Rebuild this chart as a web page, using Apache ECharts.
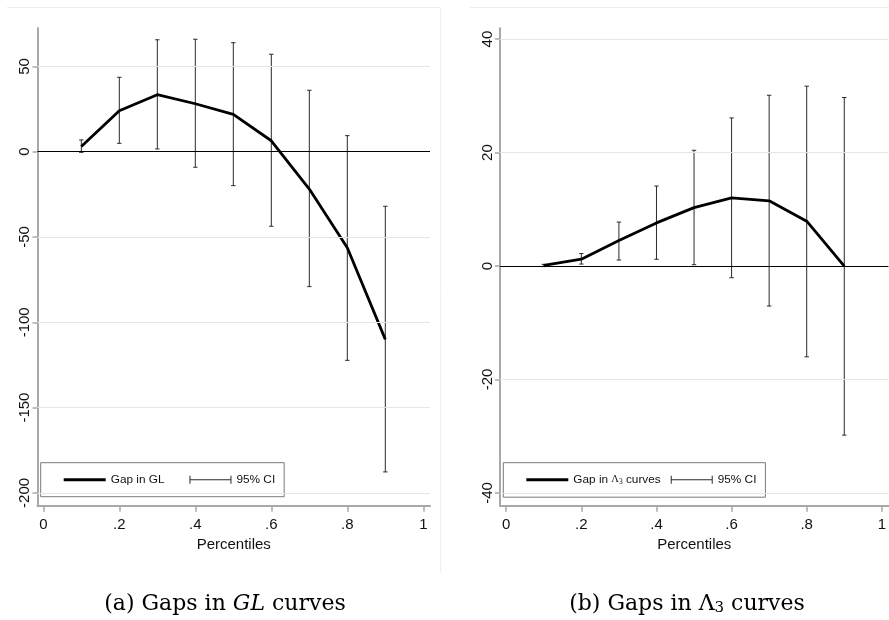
<!DOCTYPE html>
<html>
<head>
<meta charset="utf-8">
<script src="https://cdn.jsdelivr.net/npm/echarts@6/dist/echarts.min.js"></script>
<style>html,body{margin:0;padding:0;background:#fff}#c{width:889px;height:620px}</style>
</head>
<body>
<div id="c"></div>
<script>
// ---- data ----
const percentiles = [0.1, 0.2, 0.3, 0.4, 0.5, 0.6, 0.7, 0.8, 0.9];
const gapGL      = [3, 24, 33.4, 28.1, 21.9, 6.4, -21.9, -56.3, -110];
const gapGLlow   = [-0.4, 4.9, 1.6, -9.1, -19.9, -43.7, -79.1, -122.3, -187.7];
const gapGLhigh  = [6.9, 43.6, 65.6, 65.9, 63.9, 57.1, 36.0, 9.4, -32.0];
const gapL3      = [0.1, 1.2, 4.5, 7.6, 10.3, 12.0, 11.5, 7.9, 0];
const gapL3low   = [-0.1, 0.35, 1.06, 1.2, 0.24, -2.06, -7.05, -16.0, -29.8];
const gapL3high  = [0.3, 2.2, 7.75, 14.1, 20.4, 26.1, 30.1, 31.7, 29.7];
const xTicks  = [0, 0.2, 0.4, 0.6, 0.8, 1];
const yTicksA = [-200, -150, -100, -50, 0, 50];
const yTicksB = [-40, -20, 0, 20, 40];
const nameGL = 'Gap in GL';
const nameL3 = 'Gap in Λ3 curves';
const nameCIa = '95% CI (a)';
const nameCIb = '95% CI (b)';

// ---- chart ----
const FONT = 'Liberation Sans, Arial, sans-serif';
const SERIF = 'Liberation Serif, Times New Roman, serif';
const CAPSERIF = 'DejaVu Serif, Liberation Serif, serif';
const chart = echarts.init(document.getElementById('c'), null, {renderer: 'canvas'});
const fmtX = v => v === 0 ? '0' : (v === 1 ? '1' : '.' + Math.round(v * 10));

function xAxisCfg(gi, min, max) {
  return {
    type: 'value', gridIndex: gi, min: min, max: max,
    name: 'Percentiles', nameLocation: 'middle', nameGap: 32,
    nameTextStyle: {fontFamily: FONT, fontSize: 15, color: '#111'},
    axisLine: {onZero: false, lineStyle: {color: '#a8a8a8', width: 2}},
    axisTick: {show: true, length: 6, lineStyle: {color: '#a8a8a8', width: 1.5}, customValues: xTicks},
    axisLabel: {fontFamily: FONT, fontSize: 15, color: '#111', margin: 12, customValues: xTicks, formatter: fmtX},
    splitLine: {show: false}
  };
}
function yAxisCfg(gi, min, max, ticks) {
  return {
    type: 'value', gridIndex: gi, min: min, max: max,
    axisLine: {onZero: false, lineStyle: {color: '#a8a8a8', width: 2}},
    axisTick: {show: true, length: 5, lineStyle: {color: '#a8a8a8', width: 1.5}, customValues: ticks},
    axisLabel: {fontFamily: FONT, fontSize: 15, color: '#111', rotate: 90, margin: 5, customValues: ticks},
    splitLine: {show: false}
  };
}
function errRender(params, api) {
  const x = api.value(0), lo = api.value(1), hi = api.value(2);
  const pH = api.coord([x, hi]);
  const pL = api.coord([x, lo]);
  const cw = 2.2;
  const st = {stroke: '#2a2a2a', lineWidth: 1};
  return {type: 'group', children: [
    {type: 'line', shape: {x1: pH[0], y1: pH[1], x2: pL[0], y2: pL[1]}, style: st},
    {type: 'line', shape: {x1: pH[0] - cw, y1: pH[1], x2: pH[0] + cw, y2: pH[1]}, style: st},
    {type: 'line', shape: {x1: pL[0] - cw, y1: pL[1], x2: pL[0] + cw, y2: pL[1]}, style: st}
  ]};
}
function refLines(gi, ticks, nm) {
  const data = ticks.filter(v => v !== 0).map(v => ({yAxis: v, lineStyle: {color: '#e6e6e6', width: 1, type: 'solid'}}));
  data.push({yAxis: 0, lineStyle: {color: '#000', width: 1, type: 'solid'}});
  return {
    name: nm, type: 'line', xAxisIndex: gi, yAxisIndex: gi, data: [], z: 1, silent: true,
    markLine: {symbol: ['none', 'none'], silent: true, label: {show: false}, animation: false, data: data}
  };
}
const lineIcon = 'path://M0,2.5h42v3h-42z';
const ciIcon = 'path://M0,0h1v8h-1zM1,3.5h40v1h-40zM41,0h1v8h-1z';
function legendCfg(left, gap, items) {
  return {
    left: left, top: 462.7, orient: 'horizontal',
    itemWidth: 42, itemHeight: 8, itemGap: gap,
    padding: [11, 9, 11, 23],
    borderColor: '#7a7a7a', borderWidth: 1, backgroundColor: '#fff',
    selectedMode: false,
    textStyle: {fontFamily: FONT, fontSize: 11.8, color: '#111',
      rich: {lam: {fontFamily: SERIF, fontSize: 10.5, color: '#111'}, sub: {fontFamily: SERIF, fontSize: 7.5, color: '#111', padding: [5, 0, 0, 0]}}},
    formatter: n => n.indexOf('95% CI') === 0 ? '95% CI' : (n === nameL3 ? 'Gap in {lam|Λ}{sub|3} curves' : n),
    data: items
  };
}

const option = {
  animation: false,
  backgroundColor: '#fff',
  grid: [
    {left: 37.5, top: 28, width: 392.5, height: 477.7},
    {left: 500, top: 28.3, width: 392.5, height: 477.4}
  ],
  xAxis: [xAxisCfg(0, -0.0153, 1.0176), xAxisCfg(1, -0.0166, 1.0177)],
  yAxis: [yAxisCfg(0, -207.5, 72.5, yTicksA), yAxisCfg(1, -42.24, 41.9, yTicksB)],
  legend: [
    legendCfg(40.7, 25, [{name: nameGL, icon: lineIcon}, {name: nameCIa, icon: ciIcon}]),
    legendCfg(503.3, 10, [{name: nameL3, icon: lineIcon}, {name: nameCIb, icon: ciIcon}])
  ],
  series: [
    refLines(0, yTicksA, 'refA'),
    refLines(1, yTicksB, 'refB'),
    {
      name: nameCIa, type: 'custom', xAxisIndex: 0, yAxisIndex: 0, z: 3,
      itemStyle: {color: '#2a2a2a'},
      renderItem: errRender, encode: {x: 0, y: [1, 2]},
      data: percentiles.map((p, i) => [p, gapGLlow[i], gapGLhigh[i]])
    },
    {
      name: nameGL, type: 'line', xAxisIndex: 0, yAxisIndex: 0, z: 4,
      showSymbol: false, symbol: 'none', itemStyle: {color: '#000'},
      lineStyle: {color: '#000', width: 2.8},
      data: percentiles.map((p, i) => [p, gapGL[i]])
    },
    {
      name: nameCIb, type: 'custom', xAxisIndex: 1, yAxisIndex: 1, z: 3,
      itemStyle: {color: '#2a2a2a'},
      renderItem: errRender, encode: {x: 0, y: [1, 2]},
      data: percentiles.map((p, i) => [p, gapL3low[i], gapL3high[i]])
    },
    {
      name: nameL3, type: 'line', xAxisIndex: 1, yAxisIndex: 1, z: 4,
      showSymbol: false, symbol: 'none', itemStyle: {color: '#000'},
      lineStyle: {color: '#000', width: 2.8},
      data: percentiles.map((p, i) => [p, gapL3[i]])
    }
  ],
  graphic: [
    {type: 'line', silent: true, z: -1, shape: {x1: 7, y1: 7.5, x2: 440.7, y2: 7.5}, style: {stroke: '#ededed', lineWidth: 1}},
    {type: 'line', silent: true, z: -1, shape: {x1: 440.7, y1: 7.5, x2: 440.7, y2: 573}, style: {stroke: '#ededed', lineWidth: 1}},
    {type: 'line', silent: true, z: -1, shape: {x1: 470, y1: 7.5, x2: 889, y2: 7.5}, style: {stroke: '#ededed', lineWidth: 1}},
    {type: 'text', silent: true, x: 225, y: 604, style: {
      text: '(a) Gaps in {i|GL} curves', x: 0, y: 0, align: 'center', verticalAlign: 'middle',
      font: '22px ' + CAPSERIF, fill: '#000',
      rich: {i: {fontStyle: 'italic', fontFamily: CAPSERIF, fontSize: 22, fill: '#000'}}
    }},
    {type: 'text', silent: true, x: 687, y: 604, style: {
      text: '(b) Gaps in Λ{s|3} curves', x: 0, y: 0, align: 'center', verticalAlign: 'middle',
      font: '22px ' + CAPSERIF, fill: '#000',
      rich: {s: {fontFamily: CAPSERIF, fontSize: 15, fill: '#000', padding: [9, 0, 0, 0]}}
    }}
  ]
};
chart.setOption(option);
</script>
</body>
</html>
